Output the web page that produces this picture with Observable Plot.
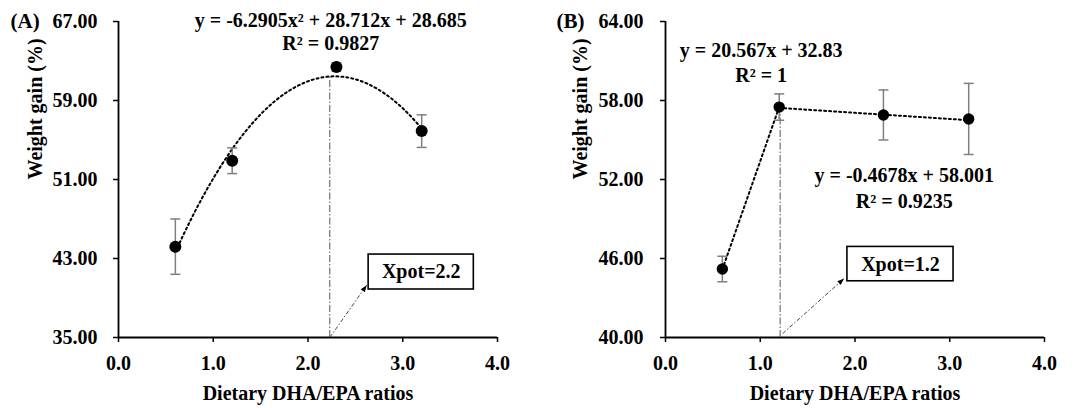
<!DOCTYPE html>
<html><head><meta charset="utf-8">
<script src="https://cdn.jsdelivr.net/npm/d3@7"></script>
<script src="https://cdn.jsdelivr.net/npm/@observablehq/plot@0.6"></script>
<style>body{margin:0;background:#fff}#wrap{display:flex;width:1076px;height:408px;background:#fff}</style>
</head><body><div id="wrap"></div>
<script>
// ---- data ----
const ratiosA = [0.6, 1.2, 2.3, 3.2];
const gainA = [44.2, 52.9, 62.4, 55.9];
const errA = [2.8, 1.3, 0.4, 1.65];
const ratiosB = [0.6, 1.2, 2.3, 3.2];
const gainB = [45.2, 57.5, 56.9, 56.6];
const errB = [0.97, 1.0, 1.9, 2.7];
const yTicksA = [35, 43, 51, 59, 67];
const yTicksB = [40, 46, 52, 58, 64];
const xTicks = [0, 1, 2, 3, 4];
const trendA = [-6.2905, 28.712, 28.685];      // y = a x² + b x + c
const trendB1 = [20.567, 32.83];               // y = m x + k
const trendB2 = [-0.4678, 58.001];
const eqA = ["y = -6.2905x² + 28.712x + 28.685", "R² = 0.9827"];
const eqB1 = ["y = 20.567x + 32.83", "R² = 1"];
const eqB2 = ["y = -0.4678x + 58.001", "R² = 0.9235"];
const xpotA = 2.23, xpotB = 1.21;
const xpotLabels = ["Xpot=2.2", "Xpot=1.2"];
const panelTags = ["(A)", "(B)"];
const xLabel = "Dietary DHA/EPA ratios";
const yLabel = "Weight gain (%)";

const FONT = "'Liberation Serif', 'DejaVu Serif', serif";
const capSymbol = {draw(ctx, size) {const r = Math.sqrt(size / Math.PI); ctx.moveTo(-r, 0); ctx.lineTo(r, 0);}};
const quad = (c) => (x) => c[0] * x * x + c[1] * x + c[2];
const lin = (c) => (x) => c[0] * x + c[1];
function sample(f, x0, x1, n) { return d3.range(n + 1).map(i => { const x = x0 + (x1 - x0) * i / n; return {x, y: f(x)}; }); }

function panel(o) {
  const pts = o.xs.map((x, i) => ({x, y: o.ys[i], e: o.es[i]}));
  const [y0, y1] = d3.extent(o.yTicks);
  const T = {fontFamily: FONT, fontWeight: "bold"};
  return Plot.plot({
    width: o.width, height: 408,
    marginLeft: o.ml, marginRight: o.mr, marginTop: 21, marginBottom: 71,
    style: {fontFamily: FONT, fontSize: "20px", fontWeight: "bold", color: "black", background: "white"},
    x: {domain: [0, 4]},
    y: {domain: [y0, y1]},
    marks: [
      Plot.axisY({ticks: o.yTicks, tickFormat: d3.format(".2f"), tickSize: 5, tickPadding: o.tp, label: null, strokeWidth: 1.5, fontSize: 20, ...T}),
      Plot.axisX({ticks: xTicks, tickFormat: d3.format(".1f"), tickSize: 5, tickPadding: 13, label: null, strokeWidth: 1.5, fontSize: 20, ...T}),
      Plot.ruleX([0], {y1: y0, y2: y1, stroke: "black", strokeWidth: 1.8}),
      Plot.ruleY([y0], {x1: 0, x2: 4, stroke: "black", strokeWidth: 1.8}),
      // trend lines
      ...o.trends.map(t => Plot.line(t, {x: "x", y: "y", stroke: "black", strokeWidth: 2, strokeDasharray: "2,3"})),
      // xpot vertical
      Plot.ruleX([o.xpot], {y1: y0, y2: o.xpotTop, stroke: "#555", strokeWidth: 1, strokeDasharray: "7,2,1.5,2"}),
      // arrow
      Plot.link([o.arrow], {x1: "x1", y1: "y1", x2: "x2", y2: "y2", stroke: "#444", strokeWidth: 1, strokeDasharray: "4,2,1.5,2"}),
      Plot.arrow([o.arrow], {x1: "x1", y1: "y1", x2: "x2", y2: "y2", stroke: "none", fill: "black", headLength: 11, headAngle: 40}),
      Plot.rect([o.box], {x1: "x1", x2: "x2", y1: "y1", y2: "y2", fill: "white", stroke: "black", strokeWidth: 1.6}),
      Plot.text([o.box], {x: d => (d.x1 + d.x2) / 2, y: d => (d.y1 + d.y2) / 2, text: () => o.xpotLabel, fontSize: 20, ...T}),
      // error bars
      Plot.ruleX(pts, {x: "x", y1: d => d.y - d.e, y2: d => d.y + d.e, stroke: "#7f7f7f", strokeWidth: 1.5}),
      Plot.dot(pts, {x: "x", y: d => d.y + d.e, symbol: capSymbol, r: 5, fill: "none", stroke: "#7f7f7f", strokeWidth: 1.5}),
      Plot.dot(pts, {x: "x", y: d => d.y - d.e, symbol: capSymbol, r: 5, fill: "none", stroke: "#7f7f7f", strokeWidth: 1.5}),
      Plot.dot(pts, {x: "x", y: "y", r: o.r, fill: "black", stroke: "none"}),
      // equations
      ...o.eqs.map(e => Plot.text(e.lines, {x: () => e.x, y: (d, i) => e.y[i], text: d => d, fontSize: 20, ...T})),
      // labels
      Plot.text([o.tag], {frameAnchor: "top-left", text: d => d, textAnchor: "start", lineAnchor: "middle", dx: o.tagDx, dy: 0, fontSize: 21, ...T}),
      Plot.text([yLabel], {frameAnchor: "left", text: d => d, rotate: -90, lineAnchor: "middle", dx: o.ylDx, fontSize: 20, ...T}),
      Plot.text([xLabel], {frameAnchor: "bottom", text: d => d, lineAnchor: "top", dy: 48, fontSize: 20, ...T})
    ]
  });
}

const A = panel({
  xs: ratiosA, ys: gainA, es: errA, yTicks: yTicksA, width: 536, ml: 118, mr: 39, tp: 16, r: 6,
  trends: [sample(quad(trendA), 0.6, 3.2, 120)],
  xpot: xpotA, xpotTop: quad(trendA)(xpotA),
  arrow: {x1: xpotA, y1: 35, x2: 2.62, y2: 40.3},
  box: {x1: 2.64, x2: 3.75, y1: 39.86, y2: 43.4}, xpotLabel: xpotLabels[0],
  eqs: [{lines: eqA, x: 2.24, y: [67.1, 64.8]}],
  tag: panelTags[0], tagDx: -108, ylDx: -83
});
const B = panel({
  xs: ratiosB, ys: gainB, es: errB, yTicks: yTicksB, width: 540, ml: 129, mr: 32, tp: 17, r: 5.7,
  trends: [sample(lin(trendB1), 0.6, 1.2, 10), sample(lin(trendB2), 1.2, 3.2, 10)],
  xpot: xpotB, xpotTop: gainB[1],
  arrow: {x1: 1.237, y1: 40.3, x2: 1.885, y2: 44.48},
  box: {x1: 1.92, x2: 3.04, y1: 44.27, y2: 46.88}, xpotLabel: xpotLabels[1],
  eqs: [{lines: eqB1, x: 1.01, y: [61.8, 59.9]}, {lines: eqB2, x: 2.52, y: [52.3, 50.3]}],
  tag: panelTags[1], tagDx: -109, ylDx: -85
});
document.getElementById("wrap").append(A, B);
</script>
</body></html>
